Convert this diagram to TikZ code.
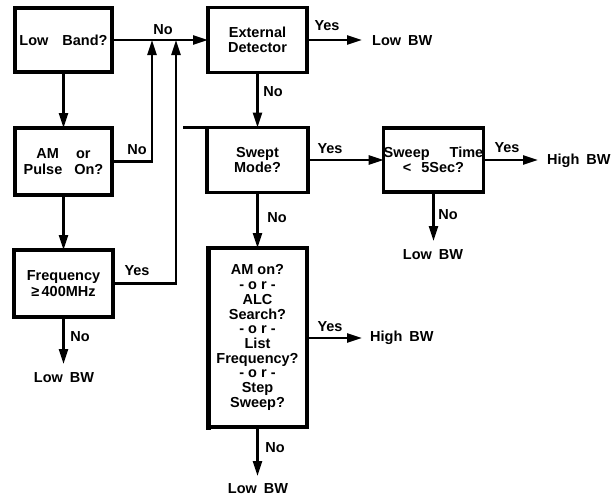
\documentclass[tikz,border=0pt]{standalone}
\usepackage{fontspec}
\setmainfont{Liberation Sans}
\usetikzlibrary{arrows.meta}
\begin{document}
\begin{tikzpicture}[x=1pt,y=-1pt,
  font=\fontsize{14.5}{15.5}\selectfont\bfseries,
  box/.style={draw,line width=3.5pt,align=center,inner sep=0pt,outer sep=0pt},
  arr/.style={line width=2.5pt,-{Triangle[length=15pt,width=9pt]}},
  lbl/.style={inner sep=0pt}]
\useasboundingbox (0,0) rectangle (613,498);
% boxes
\node[box,minimum width=97pt,minimum height=64pt] (lowband) at (63.5,40) {Low\hspace{14pt}Band?};
\node[box,minimum width=99pt,minimum height=65pt] (ext) at (257.5,40) {External\\Detector};
\node[box,minimum width=97pt,minimum height=67pt] (ampulse) at (63.5,161.5) {AM\hspace{17pt}or\\Pulse\hspace{12pt}On?};
\node[box,minimum width=99pt,minimum height=67pt] (freq) at (63.5,283.5) {Frequency\\≥\,400MHz};
\node[box,minimum width=101pt,minimum height=65pt] (swept) at (257.5,160) {Swept\\Mode?};
\node[box,minimum width=99pt,minimum height=64pt] (stime) at (433.5,160) {Sweep\hspace{20pt}Time\\<\hspace{10pt}5Sec?\hspace{14pt}};
\node[box,minimum width=99pt,minimum height=179pt,font=\fontsize{14.5}{14.7}\selectfont\bfseries] (amon) at (257.5,337.5) {AM on?\\- o r -\\ALC\\Search?\\- o r -\\List\\Frequency?\\- o r -\\Step\\Sweep?};
\draw[line width=5pt] (amon.north west) -- ([yshift=-3pt]amon.south west);
% extra line at top of swept box
\coordinate (sw) at (183,127.5);
\draw[line width=3.5pt] (swept.north west) -- (swept.north west -| sw);
% outcome texts
\node[lbl] (lb1) at (64,378) {Low\hspace{7pt}BW};
\node[lbl,anchor=west] (lb2) at (372,41) {Low\hspace{7pt}BW};
\node[lbl,anchor=west] (hb1) at (547,161) {High\hspace{7pt}BW};
\node[lbl] (lb3) at (433,255) {Low\hspace{7pt}BW};
\node[lbl,anchor=west] (hb2) at (370,338) {High\hspace{7pt}BW};
\node[lbl] (lb4) at (258,489) {Low\hspace{7pt}BW};
% arrow end coordinates
\coordinate (j1) at (152,40);
\coordinate (j2) at (176,40);
\coordinate (t1) at (63.5,364);
\coordinate (t2) at (362,40);
\coordinate (t3) at (538,160);
\coordinate (t4) at (433.5,241);
\coordinate (t5) at (362,338);
\coordinate (t6) at (257.5,476);
% connectors
\draw[arr] (lowband.east) -- (ext.west);
\draw[arr] (lowband.south) -- (ampulse.north);
\draw[arr] (ampulse.south) -- (freq.north);
\draw[arr] (ampulse.east) -| (j1);
\draw[arr] (freq.east) -| (j2);
\draw[arr] (freq.south) -- (t1);
\draw[arr] (ext.east) -- (t2);
\draw[arr] (ext.south) -- (swept.north);
\draw[arr] (swept.east) -- (stime.west);
\draw[arr] (stime.east) -- (t3);
\draw[arr] (stime.south) -- (t4);
\draw[arr] (swept.south) -- (amon.north);
\draw[arr] (amon.east |- t5) -- (t5);
\draw[arr] (amon.south) -- (t6);
% labels
\node[lbl] (n1) at (163,30) {No};
\node[lbl] (n2) at (137,150) {No};
\node[lbl] (y1) at (137,271) {Yes};
\node[lbl] (n3) at (80,337) {No};
\node[lbl] (y2) at (327,26) {Yes};
\node[lbl] (n4) at (273,92) {No};
\node[lbl] (y3) at (330,149) {Yes};
\node[lbl] (y4) at (507,148) {Yes};
\node[lbl] (n5) at (448,215) {No};
\node[lbl] (n6) at (277,218) {No};
\node[lbl] (y5) at (330,327) {Yes};
\node[lbl] (n7) at (275,448) {No};
\end{tikzpicture}
\end{document}
